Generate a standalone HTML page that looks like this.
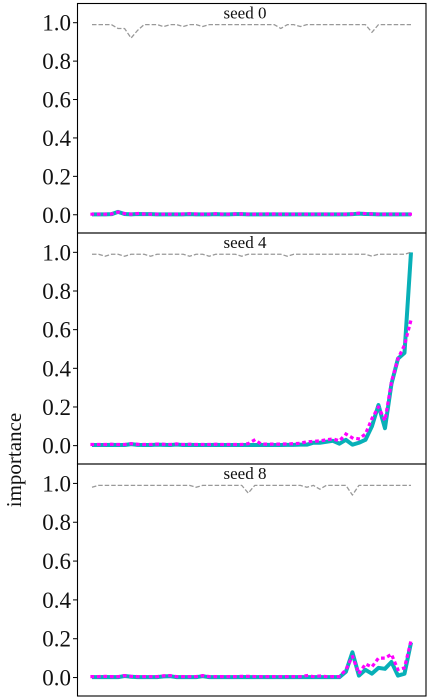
<!DOCTYPE html>
<html><head><meta charset="utf-8"><style>
body{margin:0;background:#fff;width:427px;height:700px;overflow:hidden}
svg{display:block}
text{font-family:"Liberation Serif","DejaVu Serif",serif;fill:#111}
</style></head><body>
<svg id="chart" width="427" height="700" viewBox="0 0 427 700"></svg>
<script>
const seedLabels=["seed 0","seed 4","seed 8"];
const yTicks=[0,0.2,0.4,0.6,0.8,1.0];
const yTickLabels=["0.0","0.2","0.4","0.6","0.8","1.0"];
const dashed0=[0.99,0.99,0.99,0.99,0.97,0.97,0.92,0.96,0.99,0.99,0.99,0.98,0.99,0.99,0.98,0.99,0.99,0.98,0.99,0.99,0.99,0.99,0.99,0.99,0.99,0.99,0.99,0.99,0.99,0.97,0.99,0.99,0.98,0.99,0.99,0.99,0.99,0.99,0.99,0.99,0.99,0.99,0.99,0.95,0.99,0.99,0.99,0.99,0.99,0.99];
const solid0=[0.002,0.002,0.002,0.003,0.015,0.004,0.002,0.004,0.003,0.003,0.002,0.002,0.002,0.002,0.002,0.003,0.002,0.002,0.002,0.003,0.002,0.002,0.003,0.003,0.002,0.002,0.002,0.002,0.002,0.002,0.002,0.002,0.002,0.002,0.002,0.002,0.002,0.002,0.002,0.002,0.003,0.006,0.004,0.003,0.002,0.002,0.002,0.002,0.002,0.002];
const dotted0=[0.003,0.003,0.003,0.004,0.014,0.006,0.003,0.006,0.004,0.003,0.003,0.003,0.003,0.003,0.004,0.005,0.004,0.003,0.003,0.005,0.003,0.003,0.004,0.004,0.003,0.003,0.003,0.004,0.004,0.003,0.003,0.003,0.003,0.003,0.003,0.003,0.003,0.003,0.003,0.003,0.004,0.008,0.006,0.004,0.003,0.003,0.003,0.003,0.003,0.003];
const dashed4=[0.99,0.99,0.98,0.99,0.99,0.98,0.99,0.99,0.99,0.98,0.99,0.99,0.99,0.99,0.99,0.98,0.99,0.99,0.98,0.99,0.99,0.99,0.99,0.98,0.99,0.99,0.99,0.99,0.99,0.99,0.98,0.99,0.99,0.99,0.99,0.99,0.99,0.99,0.99,0.99,0.99,0.99,0.99,0.98,0.99,0.99,0.99,0.99,0.99,1.0];
const solid4=[0.003,0.003,0.003,0.004,0.003,0.003,0.008,0.004,0.003,0.003,0.005,0.004,0.003,0.006,0.003,0.004,0.003,0.003,0.003,0.004,0.003,0.003,0.003,0.003,0.003,0.003,0.003,0.004,0.003,0.003,0.004,0.004,0.005,0.005,0.015,0.015,0.02,0.025,0.01,0.03,0.005,0.015,0.03,0.1,0.21,0.09,0.32,0.45,0.48,1.0];
const dotted4=[0.006,0.006,0.006,0.007,0.006,0.006,0.01,0.007,0.006,0.006,0.008,0.007,0.006,0.009,0.006,0.007,0.006,0.006,0.006,0.007,0.006,0.006,0.006,0.006,0.01,0.03,0.008,0.008,0.008,0.008,0.009,0.01,0.012,0.02,0.022,0.025,0.03,0.035,0.025,0.06,0.04,0.035,0.06,0.14,0.2,0.13,0.33,0.45,0.52,0.65];
const dashed8=[0.98,0.99,0.99,0.99,0.99,0.99,0.99,0.99,0.99,0.99,0.99,0.99,0.99,0.99,0.99,0.99,0.98,0.99,0.99,0.99,0.99,0.99,0.99,0.99,0.95,0.99,0.99,0.99,0.99,0.99,0.99,0.99,0.99,0.98,0.99,0.97,0.99,0.99,0.99,0.99,0.94,0.99,0.99,0.99,0.99,0.99,0.99,0.99,0.99,0.99];
const solid8=[0.002,0.002,0.003,0.002,0.002,0.008,0.004,0.002,0.002,0.002,0.002,0.006,0.007,0.002,0.002,0.002,0.002,0.007,0.002,0.002,0.002,0.002,0.002,0.003,0.002,0.002,0.002,0.002,0.002,0.002,0.002,0.002,0.002,0.002,0.002,0.002,0.002,0.002,0.002,0.03,0.13,0.01,0.04,0.02,0.05,0.045,0.08,0.01,0.02,0.18];
const dotted8=[0.005,0.005,0.006,0.005,0.005,0.01,0.006,0.005,0.005,0.005,0.005,0.009,0.01,0.005,0.005,0.005,0.005,0.01,0.005,0.005,0.005,0.005,0.005,0.006,0.006,0.005,0.005,0.005,0.005,0.005,0.005,0.005,0.005,0.01,0.005,0.008,0.005,0.005,0.005,0.04,0.11,0.02,0.07,0.055,0.1,0.1,0.12,0.04,0.05,0.19];
const series=[[dashed0,solid0,dotted0],[dashed4,solid4,dotted4],[dashed8,solid8,dotted8]];

const NS="http://www.w3.org/2000/svg";
const svg=document.getElementById('chart');
function mk(tag,attrs,parent){const e=document.createElementNS(NS,tag);for(const k in attrs)e.setAttribute(k,attrs[k]);(parent||svg).appendChild(e);return e;}
const L=77.5,R=426,X0=92,X1=411;
const panels=[{top:3.5,bottom:233},{top:233,bottom:464},{top:464,bottom:696}];
const yMin=-0.095,yMax=1.1;
panels.forEach((p,pi)=>{
  const g=mk('g',{});
  
  
  const ys=v=>p.bottom-(v-yMin)/(yMax-yMin)*(p.bottom-p.top);
  const n=series[pi][0].length;
  const xs=i=>X0+i*(X1-X0)/(n-1);
  const styles=[
    {stroke:'#999',w:1.3,dash:'4.5,2',name:'dashed-line'},
    {stroke:'#08b0b8',w:4,dash:'',name:'solid-line'},
    {stroke:'#ff00ff',w:3.2,dash:'0.5,6',name:'dotted-line',cap:'square'}];
  [1,2,0].forEach(si=>{
    const d=series[pi][si].map((v,i)=>(i?'L':'M')+xs(i).toFixed(2)+','+ys(v).toFixed(2)).join('');
    const st=styles[si];
    const path=mk('path',{d:d,fill:'none',stroke:st.stroke,'stroke-width':st.w,'stroke-linejoin':'round','stroke-linecap':st.cap||'butt'},g);
    if(st.dash)path.setAttribute('stroke-dasharray',st.dash);
    
    
  });
  yTicks.forEach((t,ti)=>{
    const y=ys(t);
    const tk=mk('line',{x1:L-4.5,x2:L,y1:y,y2:y,stroke:'#000','stroke-width':1},g);
    
    
    const tx=mk('text',{x:71,y:y+8,'text-anchor':'end','font-size':'23'},g);
    tx.textContent=yTickLabels[ti];
    
    
  });
  const ttl=mk('text',{x:245,y:p.top+15,'text-anchor':'middle','font-size':'17'},g);
  ttl.textContent=seedLabels[pi];
  
  
  const fr=mk('rect',{x:L,y:p.top,width:R-L,height:p.bottom-p.top,fill:'none',stroke:'#000','stroke-width':1.1},g);
  
  
});
const yl=mk('text',{x:0,y:0,'text-anchor':'middle','font-size':'21','transform':'translate(21,460) rotate(-90)'});
yl.textContent='importance';


</script>
</body></html>
